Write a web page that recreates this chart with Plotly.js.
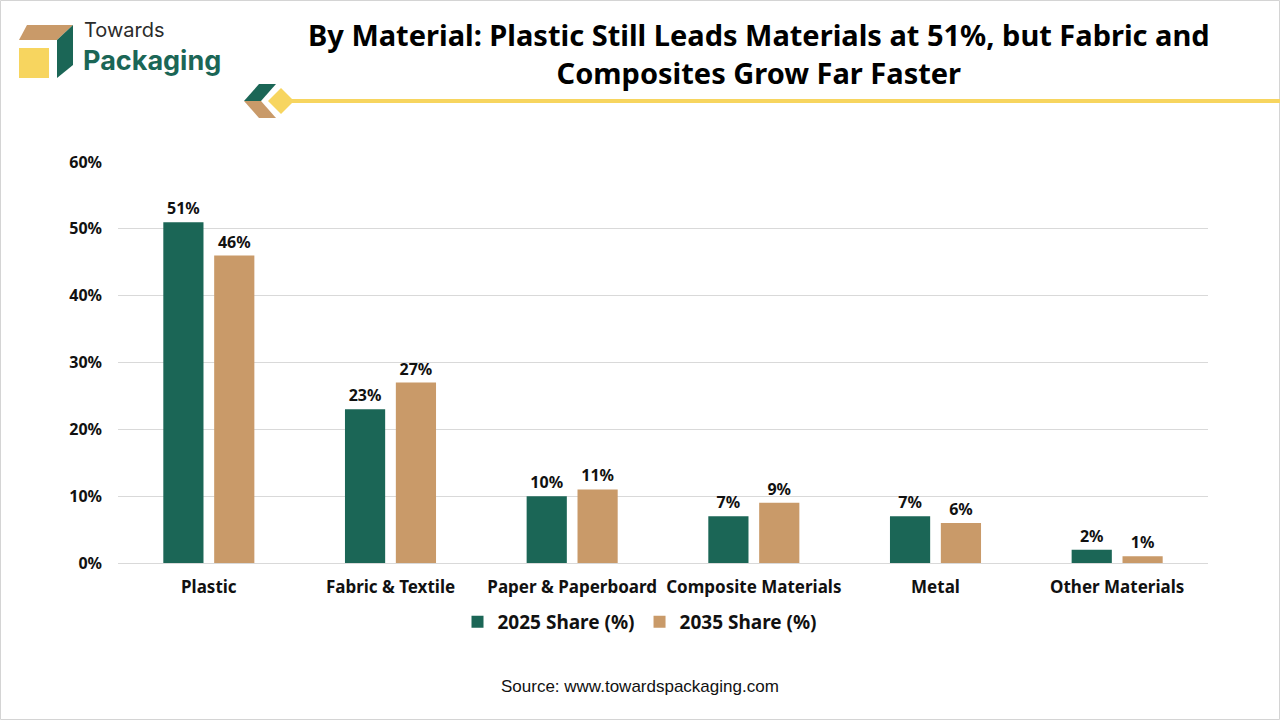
<!DOCTYPE html>
<html>
<head>
<meta charset="utf-8">
<script src="https://cdn.plot.ly/plotly-3.0.1.min.js"></script>
<style>
html,body{margin:0;padding:0;background:#fff;}
#chart{width:1280px;height:720px;}
</style>
</head>
<body>
<div id="chart"></div>
<script>
const categories = ["Plastic", "Fabric & Textile", "Paper & Paperboard", "Composite Materials", "Metal", "Other Materials"];
const share2025 = [51, 23, 10, 7, 7, 2];
const share2035 = [46, 27, 11, 9, 6, 1];
const seriesNames = ["2025 Share (%)", "2035 Share (%)"];
const yTicks = [0, 10, 20, 30, 40, 50, 60];

const GREEN = "#1b6656";
const TAN = "#c99a69";
const YELLOW = "#f7d55f";
const FONT = "Noto Sans, Open Sans, sans-serif";

const mkTrace = (name, vals, color) => ({
  type: "bar",
  name: name,
  x: categories,
  y: vals,
  marker: {color: color},
  text: vals.map(v => v + "%"),
  textposition: "outside",
  textfont: {family: FONT, size: 16, color: "#111", weight: "bold"},
  cliponaxis: false,
  hoverinfo: "skip"
});

const data = [
  mkTrace(seriesNames[0], share2025, GREEN),
  mkTrace(seriesNames[1], share2035, TAN)
];

const plotL = 118, plotT = 162, plotW = 1280 - 118 - 72, plotH = 720 - 162 - 157;
const px = x => (x - plotL) / plotW;
const py = y => (plotT + plotH - y) / plotH;
const poly = pts => "M" + pts.map(p => px(p[0]).toFixed(5) + "," + py(p[1]).toFixed(5)).join(" L") + " Z";

const layout = {
  width: 1280, height: 720,
  paper_bgcolor: "#fff", plot_bgcolor: "#fff",
  margin: {l: 118, r: 72, t: 162, b: 157},
  font: {family: FONT, color: "#111"},
  barmode: "group",
  bargap: 0.44,
  bargroupgap: 0.21,
  showlegend: true,
  legend: {
    orientation: "h", x: px(640), xanchor: "center", y: py(622), yanchor: "middle",
    font: {family: FONT, size: 19, color: "#111", weight: "bold"},
    traceorder: "normal"
  },
  xaxis: {
    type: "category",
    showgrid: false, zeroline: false,
    showline: true, linecolor: "#d9d9d9", linewidth: 1,
    ticks: "", ticklabelstandoff: 9,
    tickfont: {family: FONT, size: 17, color: "#111", weight: "bold"},
    fixedrange: true
  },
  yaxis: {
    range: [0, 60],
    tickvals: yTicks,
    ticktext: yTicks.map(v => v + "%"),
    showgrid: true, gridcolor: "#d9d9d9", gridwidth: 1,
    zeroline: false, showline: false,
    ticks: "", ticklabelstandoff: 15,
    tickfont: {family: FONT, size: 16, color: "#111", weight: "bold"},
    fixedrange: true
  }
};

layout.shapes = [
  {type: "rect", xref: "paper", yref: "paper", x0: px(0.5), x1: px(1279.5), y0: py(0.5), y1: py(719.5),
   line: {color: "#d4d4d4", width: 1}, fillcolor: "rgba(0,0,0,0)", layer: "below"},
  {type: "line", xref: "paper", yref: "paper", x0: px(290), x1: px(1280), y0: py(101), y1: py(101),
   line: {color: YELLOW, width: 4}},
  {type: "path", xref: "paper", yref: "paper", path: poly([[244,101],[259,84],[276,84],[261,101]]),
   fillcolor: GREEN, line: {width: 0}},
  {type: "path", xref: "paper", yref: "paper", path: poly([[244,101],[261,101],[276,118],[259,118]]),
   fillcolor: TAN, line: {width: 0}},
  {type: "path", xref: "paper", yref: "paper", path: poly([[281,88],[294,101],[281,114],[268,101]]),
   fillcolor: YELLOW, line: {width: 0}},
  {type: "path", xref: "paper", yref: "paper", path: poly([[19,40],[27,25],[73,25],[57,40]]),
   fillcolor: TAN, line: {width: 0}},
  {type: "path", xref: "paper", yref: "paper", path: poly([[57,40],[73,25],[73,65],[57,78]]),
   fillcolor: GREEN, line: {width: 0}},
  {type: "rect", xref: "paper", yref: "paper", x0: px(19), x1: px(49), y0: py(48), y1: py(78),
   fillcolor: YELLOW, line: {width: 0}}
];

layout.annotations = [
  {xref: "paper", yref: "paper", x: px(759), y: py(54), xanchor: "center", yanchor: "middle", showarrow: false,
   text: "By Material: Plastic Still Leads Materials at 51%, but Fabric and<br>Composites Grow Far Faster",
   font: {family: FONT, size: 29, color: "#000", weight: "bold"}, align: "center"},
  {xref: "paper", yref: "paper", x: px(83), y: py(43), xanchor: "left", yanchor: "bottom", showarrow: false,
   borderpad: 0,
   text: "Towards", font: {family: "Inter, Noto Sans, sans-serif", size: 20, color: "#2b2b2b"}},
  {xref: "paper", yref: "paper", x: px(82), y: py(43), xanchor: "left", yanchor: "top", showarrow: false,
   borderpad: 0,
   text: "Packaging", font: {family: "Inter, Noto Sans, sans-serif", size: 27, color: GREEN, weight: "bold"}},
  {xref: "paper", yref: "paper", x: px(640), y: py(686), xanchor: "center", yanchor: "middle", showarrow: false,
   text: "Source: www.towardspackaging.com", font: {family: "Liberation Sans, sans-serif", size: 17, color: "#111"}}
];

Plotly.newPlot("chart", data, layout, {displayModeBar: false, staticPlot: true});
</script>
</body>
</html>
